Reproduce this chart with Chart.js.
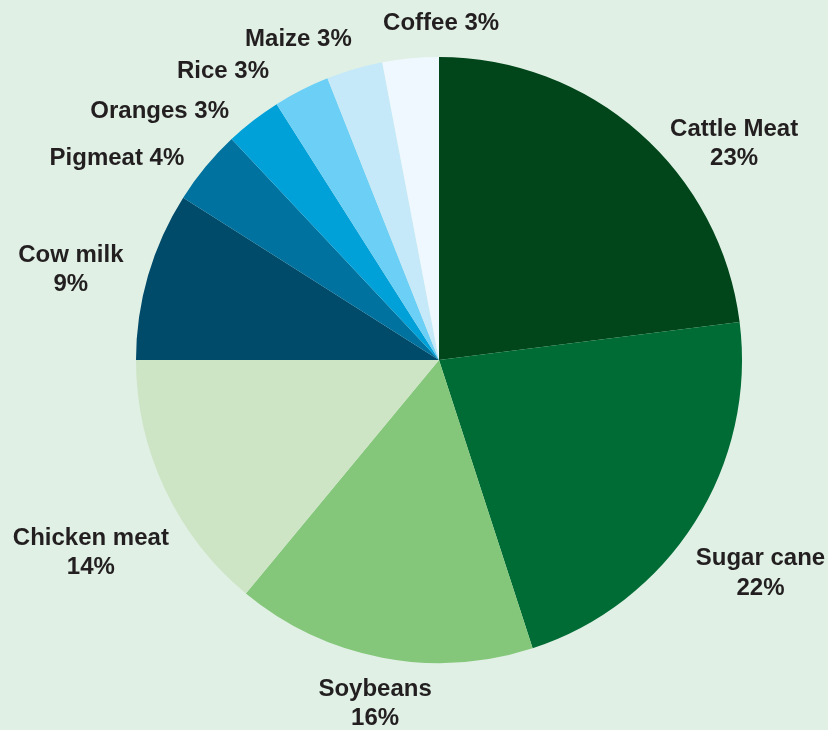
<!DOCTYPE html>
<html>
<head>
<meta charset="utf-8">
<script src="https://cdn.jsdelivr.net/npm/chart.js@4"></script>
<style>
  html, body { margin: 0; padding: 0; background: #e0f0e5; }
  #wrap { width: 828px; height: 730px; position: relative; }
</style>
</head>
<body>
<div id="wrap"><canvas id="c" width="828" height="730"></canvas></div>
<script>
// ---- data ----
const categories = ['Cattle Meat', 'Sugar cane', 'Soybeans', 'Chicken meat', 'Cow milk', 'Pigmeat', 'Oranges', 'Rice', 'Maize', 'Coffee'];
const shares = [23, 22, 16, 14, 9, 4, 3, 3, 3, 3];

// ---- styles ----
const sliceColors = ['#00461a', '#006c35', '#85c77a', '#cde5c5', '#004a6a', '#0072a0', '#00a0d8', '#6ccff6', '#c5e9f8', '#eef8fe'];
const twoLineLabel = [true, true, true, true, true, false, false, false, false, false];
// label anchor offsets relative to pie centre, in units of the pie radius
const labelOffsetX = [0.974, 1.061, -0.211, -1.149, -1.215, -1.063, -0.922, -0.713, -0.464, 0.007];
const labelOffsetY = [-0.719, 0.698, 1.129, 0.630, -0.304, -0.673, -0.828, -0.959, -1.064, -1.116];

const labelPlugin = {
  id: 'sliceLabels',
  afterDatasetsDraw(chart) {
    const ctx = chart.ctx;
    const meta = chart.getDatasetMeta(0);
    ctx.save();
    ctx.fillStyle = '#231f20';
    ctx.font = 'bold 24px "Liberation Sans", Arial, sans-serif';
    ctx.textAlign = 'center';
    ctx.textBaseline = 'alphabetic';
    const capHalf = 8.6, lineGap = 29.5;
    meta.data.forEach((arc, i) => {
      const r = arc.outerRadius;
      const x = arc.x + labelOffsetX[i] * r;
      const y = arc.y + labelOffsetY[i] * r;
      const pct = shares[i] + '%';
      if (twoLineLabel[i]) {
        ctx.fillText(categories[i], x, y - lineGap / 2 + capHalf);
        ctx.fillText(pct, x, y + lineGap / 2 + capHalf);
      } else {
        ctx.fillText(categories[i] + ' ' + pct, x, y + capHalf);
      }
    });
    ctx.restore();
  }
};

new Chart(document.getElementById('c'), {
  type: 'pie',
  data: {
    labels: categories,
    datasets: [{
      data: shares,
      backgroundColor: sliceColors,
      borderWidth: 0,
      hoverOffset: 0
    }]
  },
  options: {
    responsive: false,
    devicePixelRatio: 1,
    animation: false,
    events: [],
    layout: { padding: { left: 136, right: 86, top: 57, bottom: 67 } },
    plugins: { legend: { display: false }, tooltip: { enabled: false } }
  },
  plugins: [labelPlugin]
});
</script>
</body>
</html>
